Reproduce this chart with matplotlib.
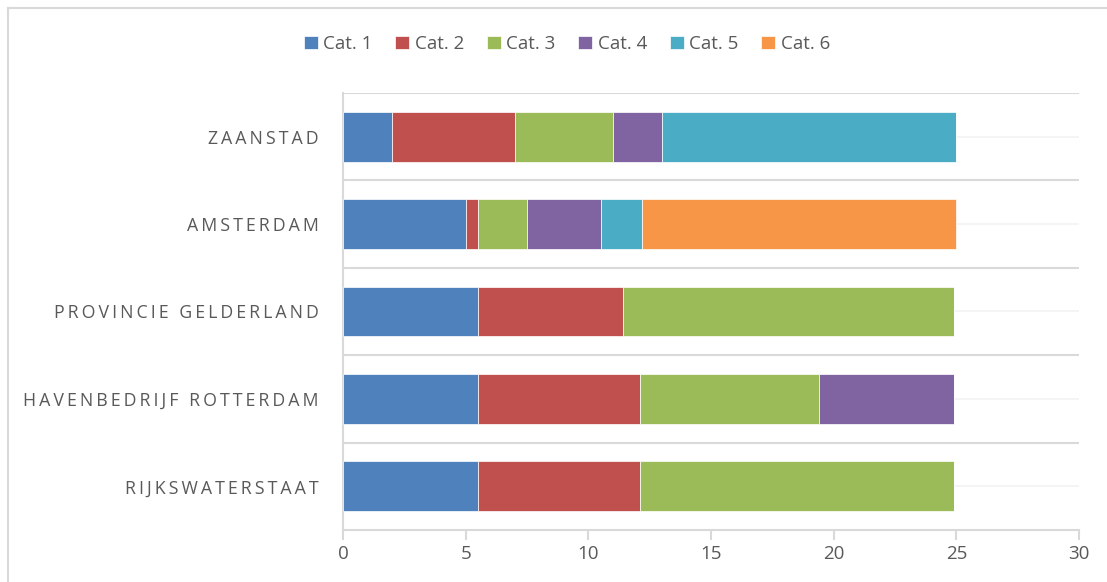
import matplotlib.pyplot as plt
import numpy as np
from matplotlib.lines import Line2D

# Data (bottom to top)
labels = ["Rijkswaterstaat", "Havenbedrijf Rotterdam", "Provincie Gelderland",
          "Amsterdam", "Zaanstad"]
series_names = ["Cat. 1", "Cat. 2", "Cat. 3", "Cat. 4", "Cat. 5", "Cat. 6"]
cat1 = [5.5, 5.5, 5.5, 5.0, 2.0]
cat2 = [6.6, 6.6, 5.9, 0.5, 5.0]
cat3 = [12.8, 7.3, 13.5, 2.0, 4.0]
cat4 = [0.0, 5.5, 0.0, 3.0, 2.0]
cat5 = [0.0, 0.0, 0.0, 1.7, 12.0]
cat6 = [0.0, 0.0, 0.0, 12.8, 0.0]
xticks = [0, 5, 10, 15, 20, 25, 30]

colors = ["#4F81BD", "#C0504D", "#9BBB59", "#8064A2", "#4BACC6", "#F79646"]
grey = "#595959"
line_grey = "#D9D9D9"

plt.rcParams['font.family'] = ['Open Sans', 'DejaVu Sans']

fig = plt.figure(figsize=(11.07, 5.82), dpi=100)
ax = fig.add_axes([343 / 1107, 1 - 530 / 582, (1079 - 343) / 1107, (530 - 93) / 582])

y = np.arange(len(labels))
left = np.zeros(len(labels))
for name, vals, c in zip(series_names, [cat1, cat2, cat3, cat4, cat5, cat6], colors):
    vals = np.array(vals)
    ax.barh(y, vals, left=left, height=0.57, color=c, label=name,
            edgecolor="white", linewidth=0.5, zorder=3)
    left = left + vals

# category separators and faint centre lines
for b in np.arange(-0.5, len(labels) + 0.5, 1.0)[1:]:
    ax.axhline(b, color=line_grey, lw=1.5, zorder=1)
for c in y:
    ax.axhline(c, color="#F2F2F2", lw=1.2, zorder=1)

ax.set_xlim(0, 30)
ax.set_ylim(-0.5, len(labels) - 0.5)
ax.set_xticks(xticks)
ax.set_xticklabels([str(t) for t in xticks])
ax.set_yticks(y)
# spaced capitals, like the original's character spacing
ts = "\u2009"
ax.set_yticklabels([(ts + " " + ts).join(ts.join(w) for w in s.upper().split())
                    for s in labels])

for s in ["top", "right"]:
    ax.spines[s].set_visible(False)
ax.spines["left"].set_color(line_grey)
ax.spines["left"].set_linewidth(1.5)
ax.spines["bottom"].set_color(line_grey)
ax.spines["bottom"].set_linewidth(1.5)
ax.tick_params(axis="x", colors=line_grey, labelcolor=grey, labelsize=13.5,
               length=7, width=1.5, pad=4)
ax.tick_params(axis="y", length=0, labelcolor=grey, labelsize=12.8, pad=17.5)

fig.legend(loc="center", bbox_to_anchor=(0.512, 1 - 44 / 582), ncol=6,
           frameon=False, fontsize=13.5, handlelength=0.75, handleheight=0.75,
           handletextpad=0.3, columnspacing=1.2, labelcolor=grey)

# outer chart border
fig.add_artist(Line2D([8 / 1107, 8 / 1107], [0, 1 - 8 / 582], color=line_grey,
                      lw=1.5, transform=fig.transFigure))
fig.add_artist(Line2D([8 / 1107, 1], [1 - 8 / 582, 1 - 8 / 582], color=line_grey,
                      lw=1.5, transform=fig.transFigure))

fig.savefig("out.png", dpi=100)
